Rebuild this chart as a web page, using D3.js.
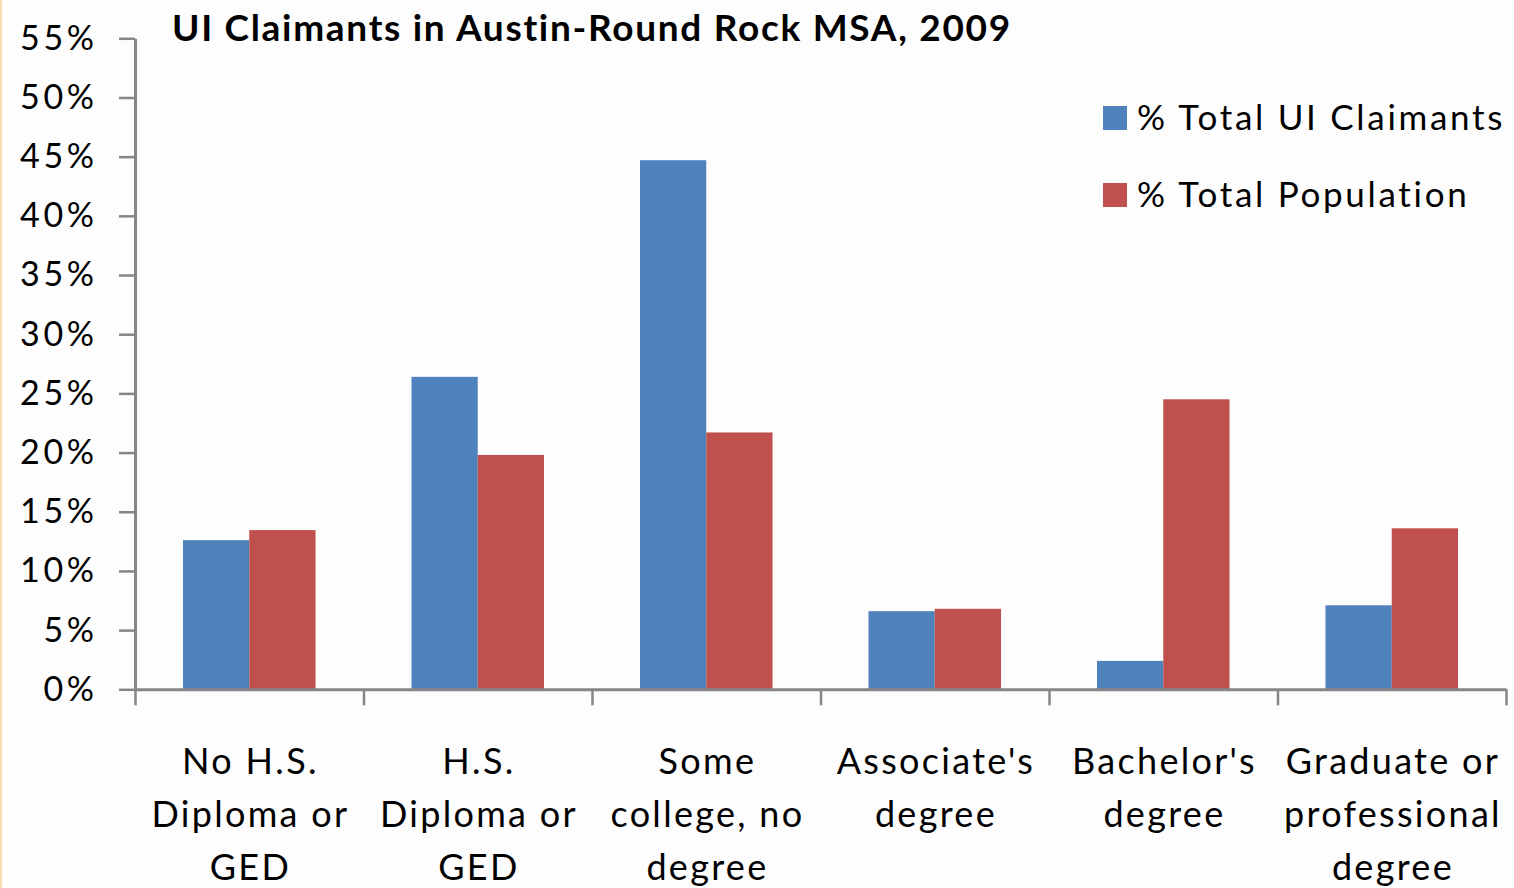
<!DOCTYPE html>
<html><head><meta charset="utf-8">
<script src="https://cdn.jsdelivr.net/npm/d3@7"></script>
<style>
html,body{margin:0;padding:0;background:#fdfdfd;}
svg{display:block;}
text{font-family:Lato,"Open Sans",sans-serif;fill:#000;}
</style></head><body>
<svg id="c" width="1514" height="888"></svg>
<script>
const title = "UI Claimants in Austin-Round Rock MSA, 2009";
const categories = ["No H.S. Diploma or GED","H.S. Diploma or GED","Some college, no degree","Associate's degree","Bachelor's degree","Graduate or professional degree"];
const categoryLines = [["No H.S.","Diploma or","GED"],["H.S.","Diploma or","GED"],["Some","college, no","degree"],["Associate's","degree"],["Bachelor's","degree"],["Graduate or","professional","degree"]];
const seriesNames = ["% Total UI Claimants","% Total Population"];
const claimants = [12.6, 26.4, 44.7, 6.6, 2.4, 7.1];
const population = [13.45, 19.8, 21.7, 6.8, 24.5, 13.6];
const yTicks = [0,5,10,15,20,25,30,35,40,45,50,55];
const colors = ["#4f81bd","#c0504d"];

const svg = d3.select("#c");
svg.append("rect").attr("x",0).attr("y",0).attr("width",1514).attr("height",888).attr("fill","#fdfdfd");
svg.append("rect").attr("x",0).attr("y",0).attr("width",2).attr("height",888).attr("fill","#f6dcb0");

const pLeft=135, pRight=1506, pTop=38.3, pBottom=689.3;
const x = d3.scaleBand().domain(categories).range([pLeft,pRight]).paddingInner(0.42).paddingOuter(0.21);
const xs = d3.scaleBand().domain([0,1]).range([0,x.bandwidth()]);
const y = d3.scaleLinear().domain([0,55]).range([pBottom,pTop]);

// bars
const series=[claimants,population];
series.forEach((vals,si)=>{
  svg.append("g").selectAll("rect").data(categories).join("rect")
    .attr("x",d=>x(d)+xs(si))
    .attr("width",xs.bandwidth())
    .attr("y",(d,i)=>y(vals[i]))
    .attr("height",(d,i)=>pBottom-y(vals[i]))
    .attr("fill",colors[si]);
});

// y axis
const ya = svg.append("g").attr("transform",`translate(${pLeft},0)`)
  .call(d3.axisLeft(y).tickValues(yTicks).tickFormat(d=>d+"%").tickSize(16).tickPadding(25).tickSizeOuter(0));
ya.select(".domain").attr("stroke","#868686").attr("stroke-width",3);
ya.selectAll(".tick line").attr("stroke","#868686").attr("stroke-width",2.5);
ya.selectAll(".tick text").attr("font-size",34).attr("font-family","Lato").attr("fill","#000").attr("letter-spacing",3.6).attr("dx",3.6);

// x axis
const xb = d3.scaleLinear().domain([0,categories.length]).range([pLeft,pRight]);
const xa = svg.append("g").attr("transform",`translate(0,${pBottom})`)
  .call(d3.axisBottom(xb).tickValues(d3.range(categories.length+1)).tickFormat("").tickSize(16).tickSizeOuter(0));
xa.select(".domain").attr("stroke","#868686").attr("stroke-width",3);
xa.selectAll(".tick line").attr("stroke","#868686").attr("stroke-width",2.5);

// category labels
const lg = svg.append("g");
categories.forEach((c,i)=>{
  const cx = x(c)+x.bandwidth()/2;
  categoryLines[i].forEach((ln,j)=>{
    lg.append("text").attr("x",cx+1.2).attr("y",774+j*53).attr("text-anchor","middle")
      .attr("font-size",36).attr("letter-spacing",2.3).text(ln);
  });
});

// title
svg.append("text").attr("x",172).attr("y",41).attr("font-size",37).attr("font-weight","bold").attr("letter-spacing",1.7).text(title);

// legend
seriesNames.forEach((n,i)=>{
  const yy = 106 + i*77;
  svg.append("rect").attr("x",1103).attr("y",yy).attr("width",24).attr("height",24).attr("fill",colors[i]);
  svg.append("text").attr("x",1137).attr("y",yy+24).attr("font-size",35).attr("letter-spacing",2.7).text(n);
});
</script>
</body></html>
